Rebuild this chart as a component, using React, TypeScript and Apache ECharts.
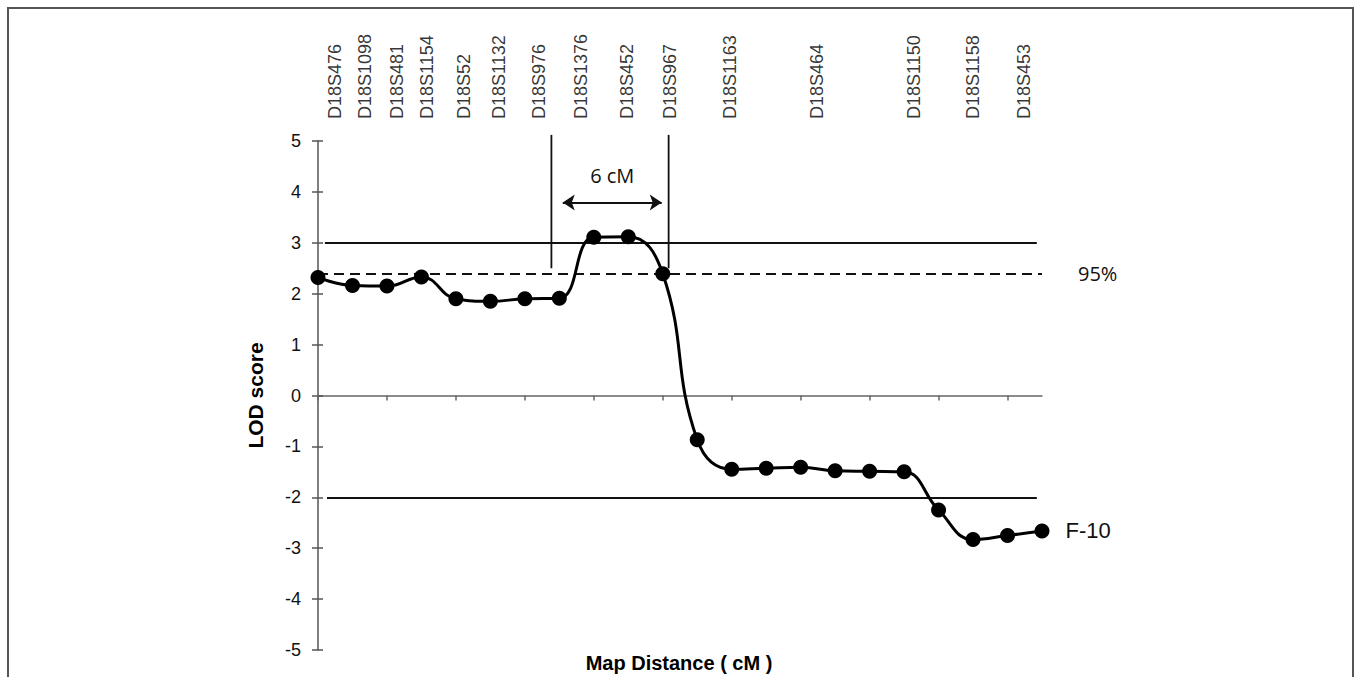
import React, { useEffect, useRef } from "react";
import * as echarts from "echarts";

// Marker names (top labels) and their positions on the map-distance axis
const markerNames = [
  "D18S476", "D18S1098", "D18S481", "D18S1154", "D18S52", "D18S1132", "D18S976",
  "D18S1376", "D18S452", "D18S967", "D18S1163", "D18S464", "D18S1150", "D18S1158", "D18S453",
];
const markerPos = [0.49, 1.36, 2.29, 3.16, 4.23, 5.25, 6.41, 7.62, 8.96, 10.2, 11.94, 14.46, 17.28, 18.99, 20.49];

// LOD scores at successive map positions (0..21)
const lodPos = [0, 1, 2, 3, 4, 5, 6, 7, 8, 9, 10, 11, 12, 13, 14, 15, 16, 17, 18, 19, 20, 21];
const lodValues = [
  2.32, 2.16, 2.15, 2.33, 1.9, 1.85, 1.9, 1.91, 3.11, 3.12, 2.39,
  -0.87, -1.45, -1.43, -1.41, -1.48, -1.49, -1.5, -2.25, -2.83, -2.75, -2.66,
];

// Axis ticks
const yTicks = { min: -5, max: 5, interval: 1 };
const xExtent = [0, 21];
const xTickValues = [0, 2, 4, 6, 8, 10, 12, 14, 16, 18, 20];

// Reference lines
const upperThreshold = { value: 3, from: 0.2, to: 20.85 };
const sig95 = { value: 2.4, from: 0, to: 21, label: "95%" };
const lowerThreshold = { value: -2, from: 0.26, to: 20.85 };
const intervalBounds = [6.77, 10.17];
const intervalY = [2.5, 5.12];
const intervalArrow = { from: 7.1, to: 9.97, y: 3.79, label: "6 cM" };

const seriesName = "F-10";

export default function App() {
  const ref = useRef<HTMLDivElement>(null);
  useEffect(() => {
    if (!ref.current) return;
    const chart = echarts.init(ref.current, null, { renderer: "svg" });
    const axisColor = "#555";
    const option: any = {
      animation: false,
      backgroundColor: "#fff",
      grid: { left: 318, right: 314, top: 141, bottom: 27, containLabel: false },
      xAxis: {
        type: "value",
        min: xExtent[0],
        max: xExtent[1],
        interval: 2,
        axisLine: { onZero: true, lineStyle: { color: "#666", width: 1.5 } },
        axisTick: { show: true, inside: false, length: 5, customValues: xTickValues, lineStyle: { color: "#666", width: 1.5 } },
        axisLabel: { show: false },
        splitLine: { show: false },
      },
      yAxis: [
        {
          type: "value",
          min: yTicks.min,
          max: yTicks.max,
          interval: yTicks.interval,
          name: "LOD score",
          nameLocation: "middle",
          nameGap: 52,
          nameTextStyle: { fontFamily: "Liberation Sans", fontWeight: "bold", fontSize: 21, color: "#000" },
          axisLine: { show: true, lineStyle: { color: axisColor, width: 1.5 } },
          axisTick: { show: true, inside: false, length: 6, lineStyle: { color: axisColor, width: 1.5 } },
          axisLabel: { fontFamily: "Liberation Sans", fontSize: 18, color: "#111", margin: 17 },
          splitLine: { show: false },
        },
        {
          type: "value",
          min: yTicks.min,
          max: yTicks.max,
          interval: yTicks.interval,
          position: "left",
          offset: 0,
          axisLine: { show: false },
          axisTick: { show: true, inside: true, length: 5, lineStyle: { color: axisColor, width: 1.5 } },
          axisLabel: { show: false },
          splitLine: { show: false },
        },
      ],
      series: [
        {
          type: "line",
          name: seriesName,
          data: lodPos.map((p, i) => [p, lodValues[i]]),
          smooth: 0.45,
          symbol: "circle",
          symbolSize: 15,
          itemStyle: { color: "#000" },
          lineStyle: { color: "#000", width: 3 },
          label: {
            show: true,
            position: "right",
            distance: 16,
            fontFamily: "Liberation Sans",
            fontSize: 22,
            color: "#111",
            formatter: (p: any) => (p.dataIndex === lodValues.length - 1 ? seriesName : ""),
          },
          z: 5,
        },
        ...intervalBounds.map((x) => ({
          type: "line",
          data: [[x, intervalY[0]], [x, intervalY[1]]],
          symbol: "none",
          clip: false,
          silent: true,
          lineStyle: { color: "#111", width: 1.8 },
          z: 3,
        })),
        {
          type: "scatter",
          data: markerPos.map((p, i) => [p, yTicks.max, markerNames[i]]),
          symbolSize: 0,
          clip: false,
          silent: true,
          label: {
            show: true,
            position: "top",
            distance: 22,
            rotate: 90,
            align: "left",
            verticalAlign: "middle",
            fontFamily: "Liberation Sans",
            fontSize: 18,
            color: "#000",
            formatter: (p: any) => p.data[2],
          },
          markLine: {
            silent: true,
            animation: false,
            symbol: "none",
            label: { show: false },
            data: [
              [
                { coord: [upperThreshold.from, upperThreshold.value], lineStyle: { color: "#111", width: 2, type: "solid" } },
                { coord: [upperThreshold.to, upperThreshold.value] },
              ],
              [
                {
                  coord: [sig95.from, sig95.value],
                  lineStyle: { color: "#111", width: 2, type: [10, 6] },
                  label: {
                    show: true,
                    position: "end",
                    distance: 36,
                    formatter: sig95.label,
                    fontFamily: "Open Sans",
                    fontSize: 20,
                    color: "#111",
                    padding: [0, 0, 10, 0],
                  },
                },
                { coord: [sig95.to, sig95.value] },
              ],
              [
                { coord: [lowerThreshold.from, lowerThreshold.value], lineStyle: { color: "#111", width: 2, type: "solid" } },
                { coord: [lowerThreshold.to, lowerThreshold.value] },
              ],
              [
                {
                  coord: [intervalArrow.from, intervalArrow.y],
                  symbol: "arrow",
                  symbolSize: 12,
                  lineStyle: { color: "#111", width: 2, type: "solid" },
                  label: {
                    show: true,
                    position: "middle",
                    distance: 17,
                    formatter: intervalArrow.label,
                    fontFamily: "Open Sans",
                    fontSize: 20,
                    color: "#111",
                  },
                },
                { coord: [intervalArrow.to, intervalArrow.y], symbol: "arrow", symbolSize: 12 },
              ],
            ],
          },
        },
      ],
      graphic: [
        {
          type: "rect",
          shape: { x: 8, y: 8, width: 1345, height: 700 },
          style: { fill: "none", stroke: "#555", lineWidth: 2 },
          silent: true,
        },
        {
          type: "text",
          x: 679,
          y: 663,
          style: {
            text: "Map Distance ( cM )",
            fontFamily: "Liberation Sans",
            fontWeight: "bold",
            fontSize: 20,
            fill: "#000",
            textAlign: "center",
            textVerticalAlign: "middle",
          },
        },
      ],
    };
    chart.setOption(option);
    return () => chart.dispose();
  }, []);
  return (
    <div
      ref={ref}
      style={{ position: "absolute", left: 0, top: 0, width: 1356, height: 677, background: "#fff" }}
    />
  );
}
